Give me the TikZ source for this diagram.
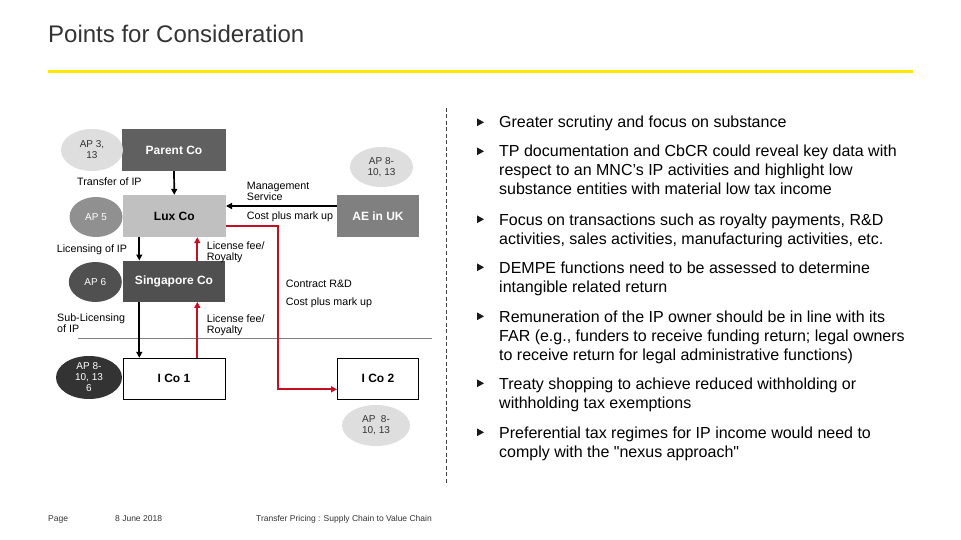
\documentclass[tikz,border=0pt]{standalone}
\usepackage{fontspec}
\setmainfont{Liberation Sans}
\usetikzlibrary{arrows.meta,shapes.geometric}
\definecolor{eyyellow}{RGB}{255,230,0}
\definecolor{titlegray}{RGB}{51,51,51}
\definecolor{parentgray}{RGB}{96,96,96}
\definecolor{luxgray}{RGB}{192,192,192}
\definecolor{aegray}{RGB}{128,128,128}
\definecolor{singgray}{RGB}{80,80,80}
\definecolor{lightell}{RGB}{222,222,222}
\definecolor{midell}{RGB}{144,144,144}
\definecolor{darkell}{RGB}{51,51,51}
\definecolor{flowred}{RGB}{196,16,32}
\definecolor{rulegray}{RGB}{128,128,128}
\begin{document}
\begin{tikzpicture}[x=1pt,y=-1pt,
  box/.style={rectangle, inner sep=0pt, font=\fontsize{12}{14}\selectfont\bfseries},
  ell/.style={ellipse, inner sep=0pt, align=center, font=\fontsize{10}{11}\selectfont},
  lbl/.style={anchor=base west, inner sep=0pt, align=left, font=\fontsize{10.7}{11}\selectfont},
  blt/.style={anchor=base west, inner sep=0pt, align=left, font=\fontsize{16}{19}\selectfont, text=black},
  foot/.style={anchor=base west, inner sep=0pt, font=\fontsize{8.5}{10}\selectfont, text=titlegray},
  flow/.style={draw=black, line width=1.7pt, -{Triangle[length=6pt,width=6pt]}},
  redflow/.style={draw=flowred, line width=2.2pt, -{Triangle[length=6pt,width=6pt]}},
  tri/.style={fill=black!90}
]
\useasboundingbox (0,0) rectangle (961,540);

% title
\node[anchor=base west, inner sep=0pt, font=\fontsize{24}{28}\selectfont, text=titlegray] (title) at (48,43) {Points for Consideration};
\draw[eyyellow, line width=3.2pt] (48,71.5) -- (913,71.5);

% boxes
\node[box, fill=parentgray, text=white, minimum width=104pt, minimum height=42pt] (parent) at (174,150) {Parent Co};
\node[box, fill=luxgray, text=black, minimum width=103pt, minimum height=42pt] (lux) at (174.3,216) {Lux Co};
\node[box, fill=aegray, text=white, minimum width=82pt, minimum height=42pt] (ae) at (378,216) {AE in UK};
\node[box, fill=singgray, text=white, minimum width=102pt, minimum height=41pt] (sing) at (174,281.2) {Singapore Co};
\node[box, draw=black, line width=1pt, fill=white, text=black, minimum width=102pt, minimum height=41pt] (ico1) at (174,378.8) {I Co 1};
\node[box, draw=black, line width=1pt, fill=white, text=black, minimum width=81pt, minimum height=41pt] (ico2) at (378,378.8) {I Co 2};

% ellipses
\node[ell, fill=lightell, text=titlegray, minimum width=62pt, minimum height=42pt] (ap3) at (92,150) {AP 3,\\13};
\node[ell, fill=midell, text=white, minimum width=53pt, minimum height=40pt] (ap5) at (96,217) {AP 5};
\node[ell, fill=lightell, text=titlegray, minimum width=63pt, minimum height=40pt] (apae) at (381.5,167) {AP 8-\\10, 13};
\node[ell, fill=singgray, text=white, minimum width=53pt, minimum height=40pt] (ap6) at (95.3,282) {AP 6};
\node[ell, fill=darkell, text=white, minimum width=66pt, minimum height=43pt] (apico1) at (89,377.5) {AP 8-\\10, 13\\6};
\node[ell, fill=lightell, text=titlegray, minimum width=68pt, minimum height=41pt] (apico2) at (376,425.5) {AP\ \ 8-\\10, 13};

% separator line
\coordinate (sepL) at (78,338.3);
\coordinate (sepR) at (431.7,338.3);
\draw[rulegray, line width=1.6pt] (sepL) -- (sepR);

% dashed divider
\coordinate (divT) at (446,108);
\coordinate (divB) at (446,483);
\draw[black!75, line width=1pt, dash pattern=on 4pt off 2.5pt] (divT) -- (divB);

% black flows
\draw[flow] (parent.south) -- (lux.north);
\draw[flow] (ae.west |- 0,206) -- (lux.east |- 0,206);
\draw[flow] (lux.south -| 139.3,0) -- (sing.north -| 139.3,0);
\draw[flow] (sing.south -| 139.3,0) -- (ico1.north -| 139.3,0);

% red flows
\draw[redflow] (ico1.north -| 197.3,0) -- (sing.south -| 197.3,0);
\draw[redflow] (sing.north -| 197.3,0) -- (lux.south -| 197.3,0);
\draw[redflow] (lux.east |- 0,226) -- (278,226) -- (278,389.3) -- (ico2.west |- 0,389.3);

% labels (base = baseline of last line)
\node[lbl] (ltransfer) at (77,185.7) {Transfer of IP};
\node[lbl] (llicensing) at (56.7,252.3) {Licensing of IP};
\node[lbl] (lsub) at (57,332) {Sub-Licensing\\of IP};
\node[lbl] (lfee1) at (206.7,260) {License fee/\\Royalty};
\node[lbl] (lfee2) at (206.7,333.7) {License fee/\\Royalty};
\node[lbl] (lmgmt) at (246.7,201) {Management\\Service};
\node[lbl] (lcost1) at (246.7,219) {Cost plus mark up};
\node[lbl] (lrd) at (285.7,287.7) {Contract R\&D};
\node[lbl] (lcost2) at (285.7,305) {Cost plus mark up};

% bullets
\foreach \b in {128,157,225,273,322,389,438}{
  \fill[tri] (477,\b-9.6) -- (484,\b-5.7) -- (477,\b-1.8) -- cycle;
}
\node[blt] (b1) at (499,128) {Greater scrutiny and focus on substance};
\node[blt] (b2) at (499,195) {TP documentation and CbCR could reveal key data with\\respect to an MNC's IP activities and highlight low\\substance entities with material low tax income};
\node[blt] (b3) at (499,244) {Focus on transactions such as royalty payments, R\&D\\activities, sales activities, manufacturing activities, etc.};
\node[blt] (b4) at (499,292) {DEMPE functions need to be assessed to determine\\intangible related return};
\node[blt] (b5) at (499,360) {Remuneration of the IP owner should be in line with its\\FAR (e.g., funders to receive funding return; legal owners\\to receive return for legal administrative functions)};
\node[blt] (b6) at (499,408) {Treaty shopping to achieve reduced withholding or\\withholding tax exemptions};
\node[blt] (b7) at (499,457) {Preferential tax regimes for IP income would need to\\comply with the {\addfontfeatures{Ligatures=TeXOff}"nexus approach"}};

% footer
\node[foot] (fpage) at (48,521) {Page};
\node[foot] (fdate) at (115,521) {8 June 2018};
\node[foot] (ftitle) at (256,521) {Transfer Pricing : Supply Chain to Value Chain};
\end{tikzpicture}
\end{document}
